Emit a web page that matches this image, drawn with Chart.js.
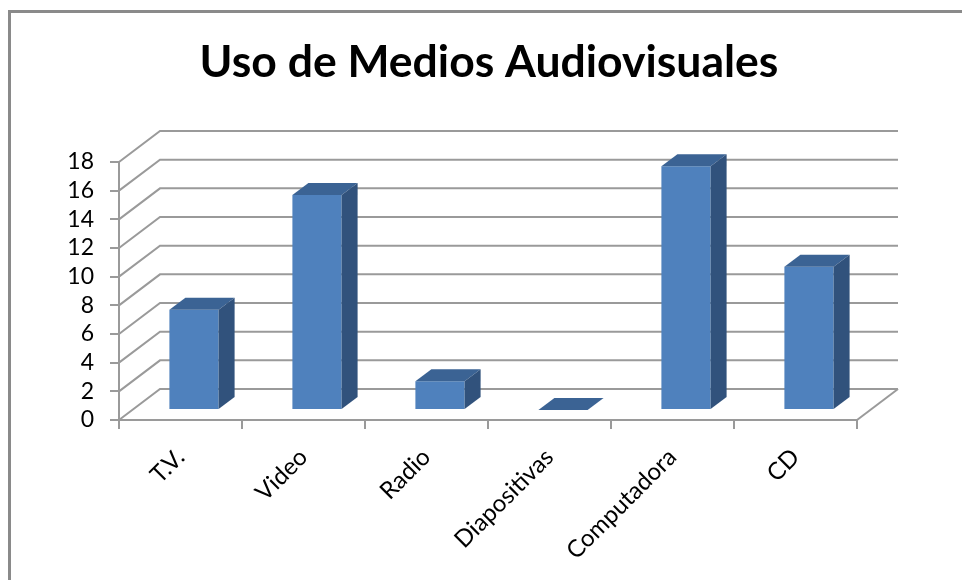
<!DOCTYPE html>
<html>
<head>
<meta charset="utf-8">
<script src="https://cdn.jsdelivr.net/npm/chart.js@4.4.1/dist/chart.umd.min.js"></script>
<style>
  html, body { margin: 0; padding: 0; background: #fff; }
  #wrap { width: 962px; height: 580px; position: relative; }
</style>
</head>
<body>
<div id="wrap"><canvas id="chart" width="962" height="580"></canvas></div>
<script>
// Data
const categories = ['T.V.', 'Video', 'Radio', 'Diapositivas', 'Computadora', 'CD'];
const usos = [7, 15, 2, 0, 17, 10];
const yMin = 0;
const yMax = 18;
const yStep = 2;
const chartTitle = 'Uso de Medios Audiovisuales';

// 3D look: depth of the walls and of the bars
const WALL_DX = 41, WALL_DY = -31;
const BAR_SHIFT_X = 13.5, BAR_SHIFT_Y = -10;
const BAR_DX = 16, BAR_DY = -12;
const gridColor = '#9a9a9a';

const frame3d = {
    id: 'frame3d',
    beforeDraw(chart) {
        const ctx = chart.ctx;
        ctx.save();
        // outer frame of the chart
        ctx.strokeStyle = '#8a8a8a';
        ctx.lineWidth = 3;
        ctx.beginPath();
        ctx.moveTo(9.5, 580);
        ctx.lineTo(9.5, 11.5);
        ctx.lineTo(962, 11.5);
        ctx.stroke();
        // title, centred over the plot like the original
        ctx.fillStyle = '#000';
        ctx.font = 'bold 44.5px Lato';
        ctx.textAlign = 'center';
        ctx.textBaseline = 'alphabetic';
        ctx.fillText(chartTitle, 489, 77);
        ctx.restore();
    },
    beforeDatasetsDraw(chart) {
        const ctx = chart.ctx;
        const area = chart.chartArea;
        const y = chart.scales.y;
        ctx.save();
        ctx.strokeStyle = gridColor;
        ctx.lineWidth = 2;
        // gridlines: side wall then back wall
        y.ticks.forEach(t => {
            const py = y.getPixelForValue(t.value);
            ctx.beginPath();
            ctx.moveTo(area.left, py);
            ctx.lineTo(area.left + WALL_DX, py + WALL_DY);
            ctx.lineTo(area.right + WALL_DX, py + WALL_DY);
            ctx.stroke();
        });
        // right edge of the floor
        const base = y.getPixelForValue(0);
        ctx.beginPath();
        ctx.moveTo(area.right, base);
        ctx.lineTo(area.right + WALL_DX, base + WALL_DY);
        ctx.stroke();
        ctx.restore();
        // bars sit a bit behind the front plane
        ctx.save();
        ctx.translate(BAR_SHIFT_X, BAR_SHIFT_Y);
    },
    afterDatasetsDraw(chart) {
        const ctx = chart.ctx;
        const meta = chart.getDatasetMeta(0);
        meta.data.forEach(bar => {
            const p = bar.getProps(['x', 'y', 'base', 'width'], true);
            const l = p.x - p.width / 2, r = p.x + p.width / 2;
            // top face
            ctx.fillStyle = '#3b6394';
            ctx.beginPath();
            ctx.moveTo(l, p.y);
            ctx.lineTo(l + BAR_DX, p.y + BAR_DY);
            ctx.lineTo(r + BAR_DX, p.y + BAR_DY);
            ctx.lineTo(r, p.y);
            ctx.closePath();
            ctx.fill();
            // side face
            if (p.base - p.y > 0.5) {
                ctx.fillStyle = '#31527c';
                ctx.beginPath();
                ctx.moveTo(r, p.y);
                ctx.lineTo(r + BAR_DX, p.y + BAR_DY);
                ctx.lineTo(r + BAR_DX, p.base + BAR_DY);
                ctx.lineTo(r, p.base);
                ctx.closePath();
                ctx.fill();
            }
        });
        ctx.restore();
    }
};

new Chart(document.getElementById('chart').getContext('2d'), {
    type: 'bar',
    data: {
        labels: categories,
        datasets: [{
            label: 'Uso',
            data: usos,
            backgroundColor: '#4f81bd',
            borderWidth: 0,
            barPercentage: 0.4,
            categoryPercentage: 1,
            clip: false
        }]
    },
    options: {
        responsive: false,
        animation: false,
        layout: { padding: { left: 0, right: 105, top: 162, bottom: 0 } },
        plugins: {
            legend: { display: false },
            tooltip: { enabled: false },
            title: { display: false }
        },
        scales: {
            x: {
                afterFit(scale) { scale.height = 160; },
                grid: { drawOnChartArea: false, drawTicks: true, tickLength: 9, color: gridColor, lineWidth: 2 },
                border: { display: true, color: gridColor, width: 2 },
                ticks: {
                    color: '#000',
                    autoSkip: false,
                    maxRotation: 45,
                    minRotation: 45,
                    padding: 14,
                    font: { family: 'Lato', size: 24 }
                }
            },
            y: {
                min: yMin,
                max: yMax,
                afterFit(scale) { scale.width = 119; },
                grid: { drawOnChartArea: false, drawTicks: true, tickLength: 9, color: gridColor, lineWidth: 2 },
                border: { display: true, color: gridColor, width: 2 },
                ticks: {
                    stepSize: yStep,
                    autoSkip: false,
                    color: '#000',
                    padding: 16,
                    font: { family: 'Lato', size: 23 }
                }
            }
        }
    },
    plugins: [frame3d]
});
</script>
</body>
</html>
